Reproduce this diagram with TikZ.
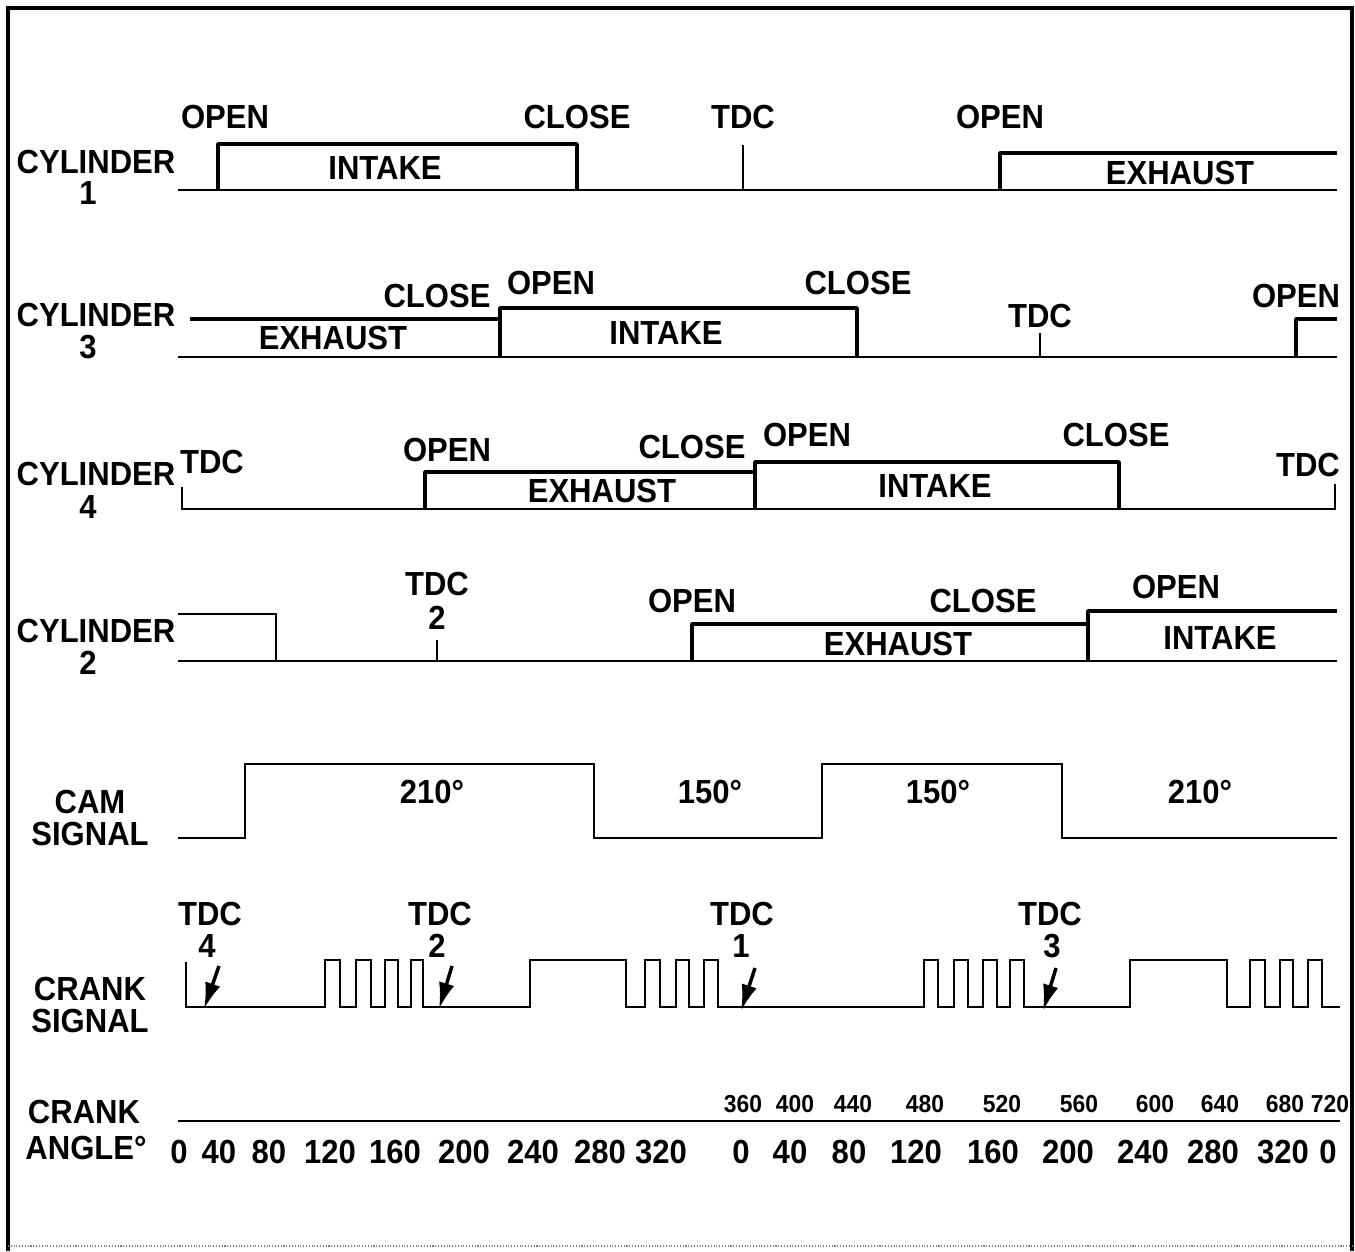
\documentclass[tikz,border=0pt]{standalone}
\usepackage{fontspec}
\setmainfont{Liberation Sans}[FakeStretch=0.93]
\usetikzlibrary{arrows.meta}

\begin{document}
\begin{tikzpicture}[
  x=0.02cm, y=-0.02cm,
  lbl/.style={font=\fontsize{19}{21}\selectfont\bfseries, inner sep=0pt},
  small/.style={font=\fontsize{14}{16}\selectfont\bfseries, inner sep=0pt},
  base/.style={line width=1.1pt},
  valve/.style={line width=2pt, line join=round},
  thin/.style={line width=0.9pt},
  sig/.style={line width=1.3pt},
  tdcarr/.style={-{Latex[length=15pt,width=9pt]}, line width=2pt}
]
\useasboundingbox (0,0) rectangle (1355,1251);

% frame
\draw[line width=2pt] (8,1251) -- (8,8) -- (1352,8) -- (1352,1251);
\draw[densely dotted, gray, line width=0.6pt] (8,1246) -- (1352,1246);

% cylinder 1
\node[lbl] (cyl1) at (96,162) {CYLINDER};
\node[lbl] (cyl1n) at (88,193) {1};
\draw[base] (178,190) -- (1337,190);
\draw[valve] (218,190) -- (218,144) -- (577,144) -- (577,190);
\draw[valve] (1000,190) -- (1000,153) -- (1337,153);
\draw[thin] (743,145) -- (743,190);
\node[lbl] (c1open) at (225,117) {OPEN};
\node[lbl] (c1close) at (577,117) {CLOSE};
\node[lbl] (c1tdc) at (743,117) {TDC};
\node[lbl] (c1open2) at (1000,117) {OPEN};
\node[lbl] (c1int) at (385,168) {INTAKE};
\node[lbl] (c1exh) at (1180,173) {EXHAUST};

% cylinder 3
\node[lbl] (cyl3) at (96,315) {CYLINDER};
\node[lbl] (cyl3n) at (88,347) {3};
\draw[base] (178,357) -- (1337,357);
\draw[valve] (190,319) -- (500,319);
\draw[valve] (500,357) -- (500,308) -- (857,308) -- (857,357);
\draw[valve] (1296,357) -- (1296,319) -- (1337,319);
\draw[thin] (1040,333) -- (1040,357);
\node[lbl] (c3close) at (437,296) {CLOSE};
\node[lbl] (c3open) at (551,283) {OPEN};
\node[lbl] (c3close2) at (858,283) {CLOSE};
\node[lbl] (c3tdc) at (1040,316) {TDC};
\node[lbl] (c3open2) at (1296,296) {OPEN};
\node[lbl] (c3exh) at (333,338) {EXHAUST};
\node[lbl] (c3int) at (666,333) {INTAKE};

% cylinder 4
\node[lbl] (cyl4) at (96,474) {CYLINDER};
\node[lbl] (cyl4n) at (88,507) {4};
\draw[base] (182,487) -- (182,509) -- (1335,509) -- (1335,484);
\draw[valve] (425,509) -- (425,472) -- (755,472);
\draw[valve] (755,509) -- (755,462) -- (1119,462) -- (1119,509);
\node[lbl] (c4tdc) at (212,462) {TDC};
\node[lbl] (c4open) at (447,450) {OPEN};
\node[lbl] (c4close) at (692,447) {CLOSE};
\node[lbl] (c4open2) at (807,435) {OPEN};
\node[lbl] (c4close2) at (1116,435) {CLOSE};
\node[lbl] (c4tdc2) at (1308,465) {TDC};
\node[lbl] (c4exh) at (602,491) {EXHAUST};
\node[lbl] (c4int) at (935,486) {INTAKE};

% cylinder 2
\node[lbl] (cyl2) at (96,631) {CYLINDER};
\node[lbl] (cyl2n) at (88,663) {2};
\draw[base] (178,661) -- (1337,661);
\draw[thin] (178,614) -- (276,614) -- (276,661);
\draw[valve] (692,661) -- (692,624) -- (1088,624);
\draw[valve] (1088,661) -- (1088,611) -- (1337,611);
\draw[thin] (437,640) -- (437,661);
\node[lbl] (c2tdc) at (437,584) {TDC};
\node[lbl] (c2tdcn) at (437,618) {2};
\node[lbl] (c2open) at (692,601) {OPEN};
\node[lbl] (c2close) at (983,601) {CLOSE};
\node[lbl] (c2open2) at (1176,587) {OPEN};
\node[lbl] (c2exh) at (898,644) {EXHAUST};
\node[lbl] (c2int) at (1220,638) {INTAKE};

% cam signal
\node[lbl] (cam) at (90,802) {CAM};
\node[lbl] (camsig) at (90,834) {SIGNAL};
\draw[sig] (178,838) -- (245,838) -- (245,764) -- (594,764) -- (594,838)
  -- (822,838) -- (822,764) -- (1062,764) -- (1062,838) -- (1337,838);
\node[lbl] (cam1) at (432,792) {210°};
\node[lbl] (cam2) at (710,792) {150°};
\node[lbl] (cam3) at (938,792) {150°};
\node[lbl] (cam4) at (1200,792) {210°};

% crank signal
\node[lbl] (crank) at (90,989) {CRANK};
\node[lbl] (cranksig) at (90,1021) {SIGNAL};
\draw[sig] (186,962) -- (186,1007)
  \foreach \a/\b in {325/340, 356/371, 385/398, 411/423, 530/626,
                     645/660, 676/689, 704/718,
                     924/938, 954/968, 983/997, 1010/1024, 1130/1227,
                     1250/1265, 1280/1293, 1308/1322}
  { -- (\a,1007) -- (\a,960) -- (\b,960) -- (\b,1007) } -- (1340,1007);
\foreach \n/\x/\y in {4/210/207, 2/440/437, 1/742/741, 3/1050/1052} {
  \node[lbl] (tdc\n) at (\x,914) {TDC};
  \node[lbl] (tdcn\n) at (\y,946) {\n};
}
\coordinate (a4s) at (219,966);  \coordinate (a4e) at (204,1009);
\coordinate (a2s) at (452,966);  \coordinate (a2e) at (439,1009);
\coordinate (a1s) at (755,968);  \coordinate (a1e) at (741,1011);
\coordinate (a3s) at (1056,968); \coordinate (a3e) at (1043,1011);
\draw[tdcarr] (a4s) -- (a4e);
\draw[tdcarr] (a2s) -- (a2e);
\draw[tdcarr] (a1s) -- (a1e);
\draw[tdcarr] (a3s) -- (a3e);

% crank angle
\node[lbl] (ang) at (84,1112) {CRANK};
\node[lbl] (angb) at (86,1148) {ANGLE°};
\draw[base] (178,1121) -- (1340,1121);
\foreach \x/\t [count=\i] in {743/360, 795/400, 853/440, 925/480, 1002/520,
                              1079/560, 1155/600, 1220/640, 1285/680, 1330/720}
  \node[small] (hi\i) at (\x,1104) {\t};
\foreach \x/\t [count=\i] in {179/0, 219/40, 269/80, 330/120, 395/160, 464/200,
                              533/240, 600/280, 661/320, 741/0, 790/40, 849/80,
                              916/120, 993/160, 1068/200, 1143/240, 1213/280,
                              1283/320, 1328/0}
  \node[lbl] (lo\i) at (\x,1152) {\t};
\end{tikzpicture}
\end{document}
